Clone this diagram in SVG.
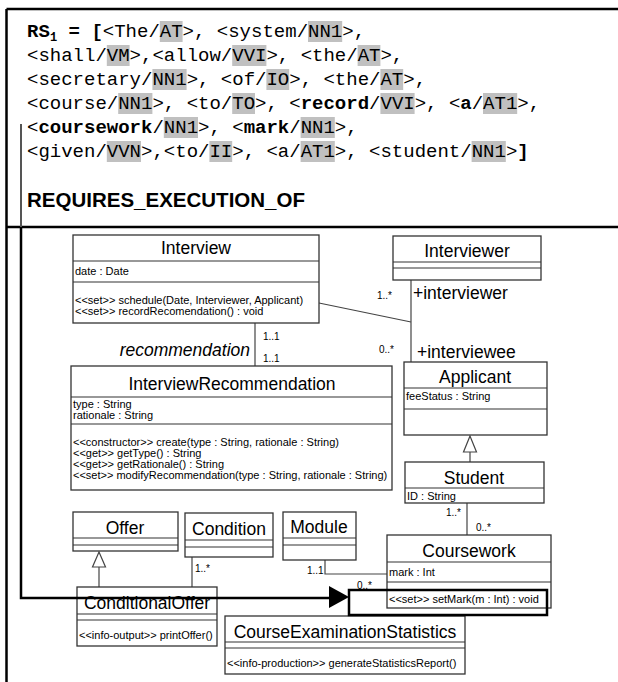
<svg xmlns="http://www.w3.org/2000/svg" width="618" height="682" viewBox="0 0 618 682">
<style>
.mono{font-family:"Liberation Mono","Courier New",monospace;font-size:19px;fill:#000}
.b{font-weight:bold}
.hl{fill:#c0c0c0}
.frame{stroke:#000;stroke-width:2.5;fill:none}
.box{fill:#fff;stroke:#333;stroke-width:1.3}
.dv{stroke:#333;stroke-width:1.2}
.t{font-family:"Liberation Sans",Arial,sans-serif;font-size:17.5px;text-anchor:middle;fill:#000}
.s{font-family:"Liberation Sans",Arial,sans-serif;font-size:11px;fill:#000}
.m{font-family:"Liberation Sans",Arial,sans-serif;font-size:10px;fill:#000}
.r{font-family:"Liberation Sans",Arial,sans-serif;font-size:17.5px;fill:#000}
.conn{stroke:#444;stroke-width:1.2;fill:none}
.tri{fill:#fff;stroke:#444;stroke-width:1.2}
</style>
<rect width="618" height="682" fill="#fff"/>
<!-- frame -->
<g id="frame">
<path class="frame" d="M6.5,9 H618 M6.5,9 V682 M6.5,227 H618"/>
</g>
<!-- requirement sentence -->
<g id="sentence">
<g id="highlights">
<rect class="hl" x="159.8" y="21" width="22.8" height="21"/>
<rect class="hl" x="308" y="21" width="34.2" height="21"/>
<rect class="hl" x="106.8" y="45" width="22.8" height="21"/>
<rect class="hl" x="232.2" y="45" width="34.2" height="21"/>
<rect class="hl" x="357.6" y="45" width="22.8" height="21"/>
<rect class="hl" x="152.4" y="69" width="34.2" height="21"/>
<rect class="hl" x="266.4" y="69" width="22.8" height="21"/>
<rect class="hl" x="380.4" y="69" width="22.8" height="21"/>
<rect class="hl" x="118.2" y="93" width="34.2" height="21"/>
<rect class="hl" x="232.2" y="93" width="22.8" height="21"/>
<rect class="hl" x="380.4" y="93" width="34.2" height="21"/>
<rect class="hl" x="483" y="93" width="34.2" height="21"/>
<rect class="hl" x="163.8" y="117" width="34.2" height="21"/>
<rect class="hl" x="300.6" y="117" width="34.2" height="21"/>
<rect class="hl" x="106.8" y="141" width="34.2" height="21"/>
<rect class="hl" x="209.4" y="141" width="22.8" height="21"/>
<rect class="hl" x="300.6" y="141" width="34.2" height="21"/>
<rect class="hl" x="471.6" y="141" width="34.2" height="21"/>
</g>
<text class="mono b" x="27" y="37">RS</text>
<text class="mono b" x="50" y="41" style="font-size:12px">1</text>
<text class="mono b" x="57.2" y="37" xml:space="preserve"> = [</text>
<text class="mono" x="102.8" y="37">&lt;The/AT&gt;, &lt;system/NN1&gt;,</text>
<text class="mono" x="27" y="61">&lt;shall/VM&gt;,&lt;allow/VVI&gt;, &lt;the/AT&gt;,</text>
<text class="mono" x="27" y="85">&lt;secretary/NN1&gt;, &lt;of/IO&gt;, &lt;the/AT&gt;,</text>
<text class="mono" x="27" y="109" xml:space="preserve">&lt;course/NN1&gt;, &lt;to/TO&gt;, &lt;<tspan class="b">record</tspan>/VVI&gt;, &lt;<tspan class="b">a</tspan>/AT1&gt;,</text>
<text class="mono" x="27" y="133" xml:space="preserve">&lt;<tspan class="b">coursework</tspan>/NN1&gt;, &lt;<tspan class="b">mark</tspan>/NN1&gt;,</text>
<text class="mono" x="27" y="157" xml:space="preserve">&lt;given/VVN&gt;,&lt;to/II&gt;, &lt;a/AT1&gt;, &lt;student/NN1&gt;<tspan class="b">]</tspan></text>
<text x="27" y="207" style="font-family:'Liberation Sans',Arial,sans-serif;font-size:20.5px;font-weight:bold">REQUIRES_EXECUTION_OF</text>
</g>
<!-- connectors -->
<g id="connectors">
<path class="conn" d="M255,323 V366"/>
<path class="conn" d="M319,303 L411,322"/>
<path class="conn" d="M411,280 V362"/>
<path class="conn" d="M470,452 V462"/>
<polygon class="tri" points="470,436 463.5,452 476.5,452"/>
<path class="conn" d="M467,503 V535"/>
<path class="conn" d="M99,567 V587"/>
<polygon class="tri" points="99,552 92.5,567 105.5,567"/>
<path class="conn" d="M192,557 V587"/>
<path class="conn" d="M325,560 V574 H387"/>
<text class="r" x="250" y="356" text-anchor="end" font-style="italic">recommendation</text>
<text class="m" x="263" y="340">1..1</text>
<text class="m" x="263" y="362">1..1</text>
<text class="m" x="377" y="299">1..*</text>
<text class="r" x="413" y="299">+interviewer</text>
<text class="m" x="379" y="353">0..*</text>
<text class="r" x="417" y="358">+interviewee</text>
<text class="m" x="446" y="516">1..*</text>
<text class="m" x="476" y="531">0..*</text>
<text class="m" x="195" y="572">1..*</text>
<text class="m" x="307" y="574">1..1</text>
<text class="m" x="357" y="589">0..*</text>
</g>
<!-- nodes -->
<g id="Interview">
<rect class="box" x="73" y="235" width="246" height="88"/>
<path class="dv" d="M73,261 H319 M73,282 H319"/>
<text class="t" x="196" y="254">Interview</text>
<text class="s" x="75" y="275">date : Date</text>
<text class="s" x="75" y="304">&lt;&lt;set&gt;&gt; schedule(Date, Interviewer, Applicant)</text>
<text class="s" x="75" y="315">&lt;&lt;set&gt;&gt; recordRecomendation() : void</text>
</g>
<g id="Interviewer">
<rect class="box" x="393" y="236" width="148" height="44"/>
<path class="dv" d="M393,262 H541 M393,268 H541"/>
<text class="t" x="467" y="257">Interviewer</text>
</g>
<g id="InterviewRecommendation">
<rect class="box" x="71" y="366" width="321" height="124"/>
<path class="dv" d="M71,397 H392 M71,424 H392"/>
<text class="t" x="232" y="390">InterviewRecommendation</text>
<text class="s" x="73" y="408">type : String</text>
<text class="s" x="73" y="419">rationale : String</text>
<text class="s" x="73" y="446">&lt;&lt;constructor&gt;&gt; create(type : String, rationale : String)</text>
<text class="s" x="73" y="457">&lt;&lt;get&gt;&gt; getType() : String</text>
<text class="s" x="73" y="468">&lt;&lt;get&gt;&gt; getRationale() : String</text>
<text class="s" x="73" y="479">&lt;&lt;set&gt;&gt; modifyRecommendation(type : String, rationale : String)</text>
</g>
<g id="Applicant">
<rect class="box" x="404" y="362" width="143" height="73"/>
<path class="dv" d="M404,388 H547 M404,409 H547"/>
<text class="t" x="475" y="383">Applicant</text>
<text class="s" x="406" y="400">feeStatus : String</text>
</g>
<g id="Student">
<rect class="box" x="405" y="462" width="139" height="41"/>
<path class="dv" d="M405,488 H544"/>
<text class="t" x="474" y="484">Student</text>
<text class="s" x="407" y="500">ID : String</text>
</g>
<g id="Offer">
<rect class="box" x="73" y="512" width="105" height="39"/>
<path class="dv" d="M73,538 H178 M73,545 H178"/>
<text class="t" x="125" y="534">Offer</text>
</g>
<g id="Condition">
<rect class="box" x="185" y="513" width="88" height="44"/>
<path class="dv" d="M185,540 H273 M185,547 H273"/>
<text class="t" x="229" y="535">Condition</text>
</g>
<g id="Module">
<rect class="box" x="283" y="512" width="73" height="48"/>
<path class="dv" d="M283,538 H356 M283,545 H356"/>
<text class="t" x="319" y="533">Module</text>
</g>
<g id="Coursework">
<rect class="box" x="387" y="535" width="164" height="73"/>
<path class="dv" d="M387,562 H551 M387,582 H551"/>
<text class="t" x="469" y="557">Coursework</text>
<text class="s" x="389" y="576">mark : Int</text>
<text class="s" x="389" y="603">&lt;&lt;set&gt;&gt; setMark(m : Int) : void</text>
</g>
<g id="ConditionalOffer">
<rect class="box" x="77" y="587" width="140" height="59"/>
<path class="dv" d="M77,614 H217 M77,620 H217"/>
<text class="t" x="147" y="609">ConditionalOffer</text>
<text class="s" x="79" y="639">&lt;&lt;info-output&gt;&gt; printOffer()</text>
</g>
<g id="CourseExaminationStatistics">
<rect class="box" x="225" y="616" width="240" height="58"/>
<path class="dv" d="M225,642 H465 M225,648 H465"/>
<text class="t" x="345" y="638">CourseExaminationStatistics</text>
<text class="s" x="227" y="667">&lt;&lt;info-production&gt;&gt; generateStatisticsReport()</text>
</g>
<!-- trace arrow and highlight -->
<g id="trace">
<path d="M21,124 V228" stroke="#555" stroke-width="2" fill="none"/>
<path d="M21,227 V598 H331" stroke="#000" stroke-width="2.5" fill="none"/>
<polygon points="329,586 349,597 329,608" fill="#000"/>
<rect x="349" y="590" width="198" height="25" fill="none" stroke="#000" stroke-width="2.5"/>
</g>
</svg>
